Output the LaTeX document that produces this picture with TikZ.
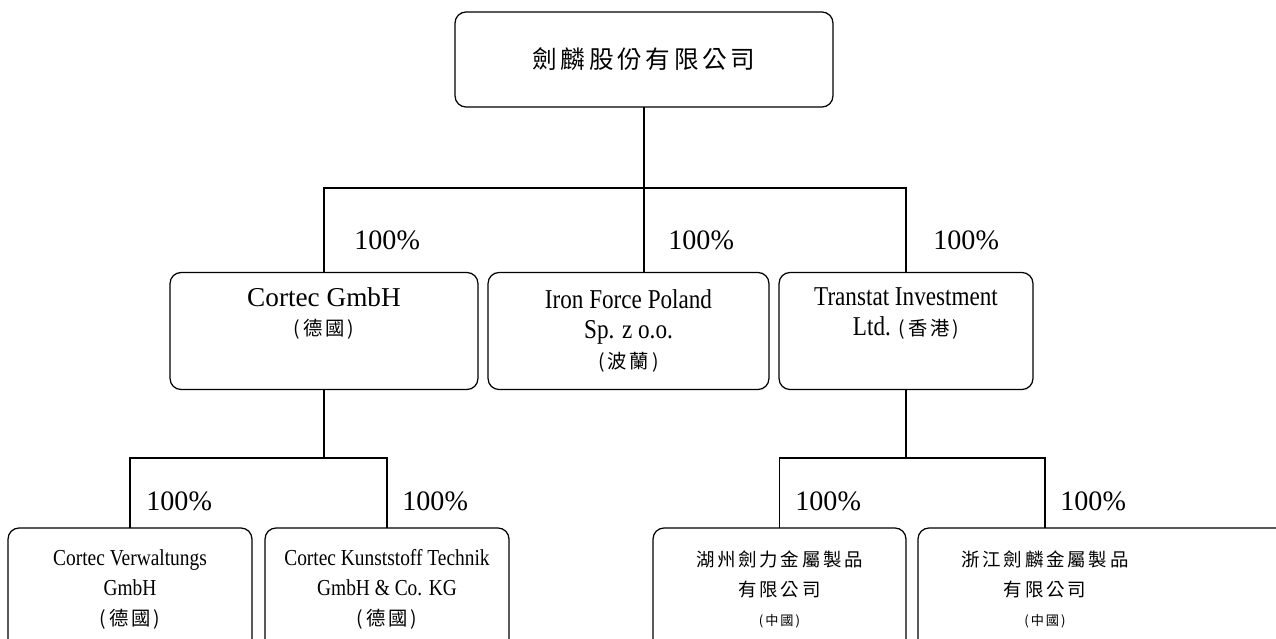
\documentclass[tikz,border=0pt]{standalone}
\usepackage{fontspec}
\setmainfont{Liberation Serif}
\newfontfamily\narrowfont{Liberation Serif}[FakeStretch=0.85]
\newfontfamily\cjk{Noto Sans CJK TC}[LetterSpace=15]
\usetikzlibrary{calc}
\tikzset{
  orgbox/.style={draw, rounded corners=0.22cm, line width=0.7pt, inner sep=0pt, outer sep=0pt, align=center},
  midbox/.style={orgbox, minimum height=2.34cm, font=\narrowfont\fontsize{15.5}{17}\selectfont},
  lowbox/.style={orgbox, minimum height=2.46cm, font=\narrowfont\fontsize{13}{17}\selectfont},
  pct/.style={anchor=west, inner sep=0pt, font=\fontsize{16}{18}\selectfont},
  link/.style={line width=0.7pt},
}
\newcommand{\zhmid}[1]{{\cjk\fontsize{11}{17}\selectfont #1}}
\newcommand{\zhlow}[1]{{\cjk\fontsize{10.5}{17}\selectfont #1}}
\newcommand{\zhtiny}[1]{{\cjk\fontsize{7.5}{17}\selectfont #1}}
\begin{document}
\begin{tikzpicture}[x=0.02cm, y=-0.02cm]
\useasboundingbox (0,0) rectangle (1276,639);

% parent
\node (top) at (644,59.5) [orgbox, minimum width=7.56cm, minimum height=1.9cm, font=\cjk\fontsize{14}{16}\selectfont] {劍麟股份有限公司};

% first level
\node (cortec) at (324,331) [midbox, minimum width=6.16cm, font=\fontsize{15.5}{17}\selectfont] {Cortec GmbH\\\zhmid{(德國)}\\\strut};
\node (iron) at (628.5,331) [midbox, minimum width=5.62cm] {Iron Force Poland\\Sp. z o.o.\\\zhmid{(波蘭)}};
\node (trans) at (906,331) [midbox, minimum width=5.08cm] {Transtat Investment\\Ltd. \zhmid{(香港)}\\\strut};

% second level
\node (verw) at (130,589.5) [lowbox, minimum width=4.88cm] {Cortec Verwaltungs\\GmbH\\\zhmid{(德國)}};
\node (kunst) at (387,589.5) [lowbox, minimum width=4.88cm] {Cortec Kunststoff Technik\\GmbH \& Co. KG\\\zhmid{(德國)}};
\node (huzhou) at (779.5,589.5) [lowbox, minimum width=5.06cm] {\zhlow{湖州劍力金屬製品}\\\zhlow{有限公司}\\\zhtiny{(中國)}};
\node (zj) at (918,528) [lowbox, anchor=north west, minimum width=7.44cm] {};
\node (zjtxt) at (1045,589.5) [align=center, inner sep=0pt, font=\fontsize{13}{17}\selectfont] {\zhlow{浙江劍麟金屬製品}\\\zhlow{有限公司}\\\zhtiny{(中國)}};

% connectors
\coordinate (busTop) at (644,188);
\coordinate (busL) at (324,458);
\coordinate (busR) at (906,458);
\draw [link] (top.south) -- (top.south |- iron.north);
\draw [link] (cortec.north) |- (busTop) -| (trans.north);
\draw [link] (cortec) -- (busL);
\draw [link] (verw.north) |- (busL) -| (kunst.north);
\draw [link] (trans) -- (busR);
\draw [link] (huzhou.north) |- (busR) -| (zjtxt |- zj.north);

% shares
\node (p1) at (354,240) [pct] {100\%};
\node (p2) at (668,240) [pct] {100\%};
\node (p3) at (933,240) [pct] {100\%};
\node (p4) at (146,501) [pct] {100\%};
\node (p5) at (402,501) [pct] {100\%};
\node (p6) at (795,501) [pct] {100\%};
\node (p7) at (1060,501) [pct] {100\%};

\end{tikzpicture}
\end{document}
